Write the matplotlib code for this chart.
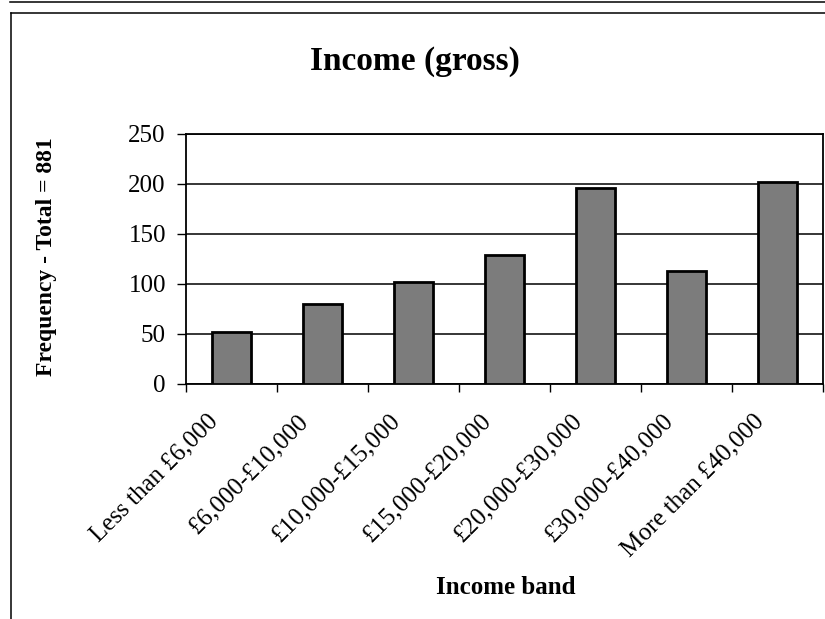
import matplotlib
matplotlib.use("Agg")
import matplotlib.pyplot as plt
import matplotlib.transforms as mtransforms
from matplotlib.lines import Line2D
import numpy as np

# data
bands = [
    "Less than £6,000",
    "£6,000-£10,000",
    "£10,000-£15,000",
    "£15,000-£20,000",
    "£20,000-£30,000",
    "£30,000-£40,000",
    "More than £40,000",
]
counts = [52, 80, 102, 129, 196, 113, 202]
y_ticks = [0, 50, 100, 150, 200, 250]

plt.rcParams["font.family"] = ["Liberation Serif", "DejaVu Serif"]

W, H = 825, 619
fig = plt.figure(figsize=(W / 100, H / 100), dpi=100)
ax = fig.add_axes([186 / W, 1 - 384 / H, (823 - 186) / W, (384 - 134) / H])

x = np.arange(len(bands))
ax.bar(x, counts, width=0.43, color="#7c7c7c", edgecolor="black",
       linewidth=2.0, zorder=3)

ax.set_xlim(-0.5, len(bands) - 0.5)
ax.set_ylim(0, 250)
ax.set_yticks(y_ticks)
ax.yaxis.grid(True, color="black", linewidth=1.1, zorder=0)
for s in ax.spines.values():
    s.set_linewidth(1.3)

# ticks between categories, labels at the bar centres
ax.set_xticks(np.arange(len(bands) + 1) - 0.5)
ax.set_xticklabels([])
ax.set_xticks(x, minor=True)
ax.set_xticklabels(bands, minor=True, rotation=45, ha="right", va="top",
                   rotation_mode="anchor", fontsize=18)
ax.tick_params(axis="x", which="major", direction="out", length=6, width=1)
ax.tick_params(axis="x", which="minor", length=0, pad=0)
ax.tick_params(axis="y", direction="out", length=6.5, width=1, pad=8,
               labelsize=18)

shift = mtransforms.ScaledTranslation(-0.25, -0.26, fig.dpi_scale_trans)
for lab in ax.get_xticklabels(minor=True):
    lab.set_transform(lab.get_transform() + shift)

fig.text(415 / W, 1 - 70 / H, "Income (gross)", ha="center", va="baseline",
         fontsize=24, fontweight="bold")
fig.text(47 / W, 1 - 257 / H, "Frequency - Total = 881", rotation=90,
         ha="center", va="center", fontsize=17, fontweight="bold")
fig.text(506 / W, 1 - 588 / H, "Income band", ha="center", va="center",
         fontsize=18, fontweight="bold")

# page/frame lines from the scan
for xs, ys in [([10, W], [2, 2]), ([11, W], [13, 13]), ([11, 11], [13, H])]:
    fig.add_artist(Line2D([v / W for v in xs], [1 - v / H for v in ys],
                          color="black", linewidth=1.1))

fig.savefig("out.png", dpi=100)
